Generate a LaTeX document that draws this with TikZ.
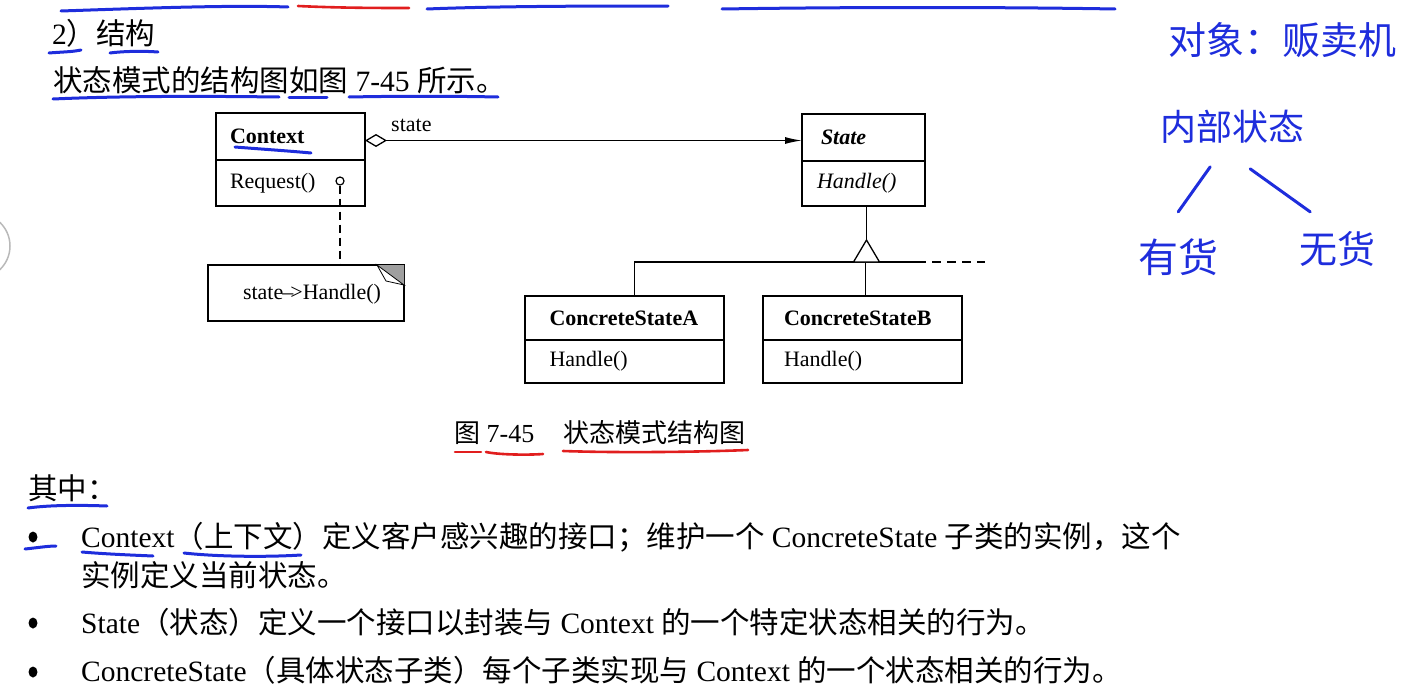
\documentclass[tikz,border=0pt]{standalone}
\usepackage{fontspec}
\setmainfont{Liberation Serif}
\newfontfamily\zhfont{Noto Sans CJK SC}
\usetikzlibrary{positioning,arrows.meta,shapes.geometric}
\definecolor{pen}{RGB}{30,45,220}
\definecolor{redpen}{RGB}{225,30,30}
\newcommand\zh[1]{{\zhfont #1}}
\newcommand\bodysize{\fontsize{29.5}{35}\selectfont}
\newcommand\diagsize{\fontsize{22}{26}\selectfont}
\tikzset{
  body/.style={anchor=base west,inner sep=0pt,font=\bodysize},
  cls/.style={draw,line width=1.3pt,anchor=north west,inner ysep=0pt,outer sep=0pt,align=left,font=\diagsize},
  memo/.style={draw,line width=1.3pt,anchor=north west,inner sep=0pt,outer sep=0pt},
  hand/.style={pen,line width=3pt,line cap=round},
  redhand/.style={redpen,line width=2.6pt,line cap=round},
  handtext/.style={anchor=west,inner sep=0pt,text=pen,font=\zhfont\fontsize{#1}{#1}\selectfont},
  bullet/.style={ellipse,fill=black,inner sep=0pt,minimum width=9pt,minimum height=11pt},
}

\begin{document}
\begin{tikzpicture}[x=1pt,y=-1pt,>=Latex]
  \useasboundingbox (0,0) rectangle (1428,696);
  \draw[gray!55,line width=1.5pt] (-22.6,246) circle (32.6pt);

  % text above the figure
  \node[body] (head) at (52,44) {2\zh{）结构}};
  \node[body] (intro) at (53,91) {\zh{状态模式的结构图如图} 7-45 \zh{所示。}};

  % classes
  \node[cls,text width=121pt,inner xsep=14pt,minimum height=47pt] (ctx) at (216,113) {\textbf{Context}};
  \node[cls,text width=121pt,inner xsep=14pt,minimum height=46pt] (ctxop) at (ctx.south west) {Request()};
  \node[cls,text width=93pt,inner xsep=15pt,minimum height=47pt] (st) at (802,114) {\hspace*{4pt}\textbf{\textit{State}}};
  \node[cls,text width=93pt,inner xsep=15pt,minimum height=45pt] (stop) at (st.south west) {\textit{Handle()}};
  \node[cls,text width=150pt,inner xsep=24.5pt,minimum height=44pt] (csa) at (525,296) {\textbf{ConcreteStateA}};
  \node[cls,text width=150pt,inner xsep=24.5pt,minimum height=43pt] (csaop) at (csa.south west) {Handle()};
  \node[cls,text width=157pt,inner xsep=21pt,minimum height=44pt] (csb) at (763,296) {\textbf{ConcreteStateB}};
  \node[cls,text width=157pt,inner xsep=21pt,minimum height=43pt] (csbop) at (csb.south west) {Handle()};

  % note
  \node[memo,minimum width=196pt,minimum height=56pt] (nt) at (208,265) {};
  \node[font=\diagsize,inner sep=0pt] (nttext) at ([xshift=6pt,yshift=-1pt]nt.center) {state\kern-1pt–\kern-3pt>Handle()};
  \fill[gray!75] (nt.north east) -- ++(-27,0) -- ++(27,20) -- cycle;
  \filldraw[fill=white,line width=0.8pt] ([xshift=-27pt]nt.north east) -- ++(9,16) -- ++(18,4) -- cycle;
  \draw[line width=2.6pt] (nt.south west) -- (nt.south east);
  \node[circle,draw,line width=1.2pt,inner sep=0pt,minimum size=8pt] (req) at (340,181) {};
  \draw[line width=1.2pt,dash pattern=on 8pt off 5pt] (req.south) -- (req.south |- nt.north);

  % connectors
  \draw[line width=1.3pt,{Diamond[open,length=22pt,width=13pt]}-{Latex[length=17pt,width=7pt]}]
    ([yshift=-4pt]ctx.east) -- ([yshift=-4pt]ctx.east -| st.west);
  \node[font=\diagsize,anchor=base west,inner sep=0pt] (lbl) at (391,131) {state};
  \coordinate (barend) at (917,262);
  \draw[line width=1.3pt] ([xshift=10pt]csa.north) |- (barend);
  \draw[line width=1.3pt,dash pattern=on 9pt off 6pt] (barend) -- ++(68,0);
  \draw[line width=1.3pt] ([xshift=3pt]csb.north) -- ([xshift=3pt]csb.north |- barend);
  \draw[line width=1.3pt] ([xshift=3pt]stop.south) -- ++(0,34) coordinate (gapex);
  \filldraw[fill=white,line width=1.3pt] (gapex) -- ++(-13,22) -- ++(26,0) -- cycle;

  % caption and list
  \node[body,font=\fontsize{26}{30}\selectfont] (cap) at (454,442) {\zh{图} 7-45\hspace{29pt}\zh{状态模式结构图}};
  \node[body] (among) at (28,499) {\zh{其中：}};
  \node[bullet] (b1) at (33,537) {};
  \node[body] (item1) at (81,547) {Context\zh{（上下文）定义客户感兴趣的接口；维护一个} ConcreteState \zh{子类的实例，这个}};
  \node[body] (item1b) at (81,586) {\zh{实例定义当前状态。}};
  \node[bullet] (b2) at (33,623) {};
  \node[body] (item2) at (81,633) {State\zh{（状态）定义一个接口以封装与} Context \zh{的一个特定状态相关的行为。}};
  \node[bullet] (b3) at (33,672) {};
  \node[body] (item3) at (81,681) {ConcreteState\zh{（具体状态子类）每个子类实现与} Context \zh{的一个状态相关的行为。}};

  % handwriting
  \node[handtext=38] (obj) at (1168,40) {对象：贩卖机};
  \node[handtext=36] (inner) at (1160,127) {内部状态};
  \node[handtext=40] (yes) at (1138,257) {有货};
  \node[handtext=38] (no) at (1299,249) {无货};
  \draw[hand] (inner.south) ++(-22,23) -- ++(-32,45);
  \draw[hand] (inner.south) ++(18,25) -- ++(60,43);

  \draw[hand] (61,11) .. controls (150,8) and (230,5) .. (288,7);
  \draw[redhand] (298,6) .. controls (340,8) and (380,8) .. (409,8);
  \draw[hand] (427,9) .. controls (500,6) and (600,6) .. (668,6);
  \draw[hand] (722,9) .. controls (850,7) and (1000,7) .. (1115,9);
  \draw[hand] (49,53) .. controls (60,52) and (72,52) .. (81,50);
  \draw[hand] (110,53) .. controls (125,51) and (145,51) .. (158,52);
  \draw[hand] (53,99) .. controls (120,96) and (200,96) .. (279,97);
  \draw[hand] (289,97) -- (327,97);
  \draw[hand] (349,97) .. controls (400,96) and (450,96) .. (498,97);
  \draw[hand] (235,147) .. controls (260,149) and (290,151) .. (311,153);
  \draw[redhand] (455,452) -- (481,452);
  \draw[redhand] (486,452) .. controls (500,455) and (530,455) .. (543,454);
  \draw[redhand] (563,451) .. controls (620,453) and (700,452) .. (748,450);
  \draw[hand] (28,508) .. controls (50,505) and (80,505) .. (107,506);
  \draw[hand] (25,549) .. controls (35,548) and (48,546) .. (56,546);
  \draw[hand] (82,552) .. controls (105,554) and (130,555) .. (153,556);
  \draw[hand] (184,553) .. controls (220,557) and (270,557) .. (301,555);
\end{tikzpicture}
\end{document}
